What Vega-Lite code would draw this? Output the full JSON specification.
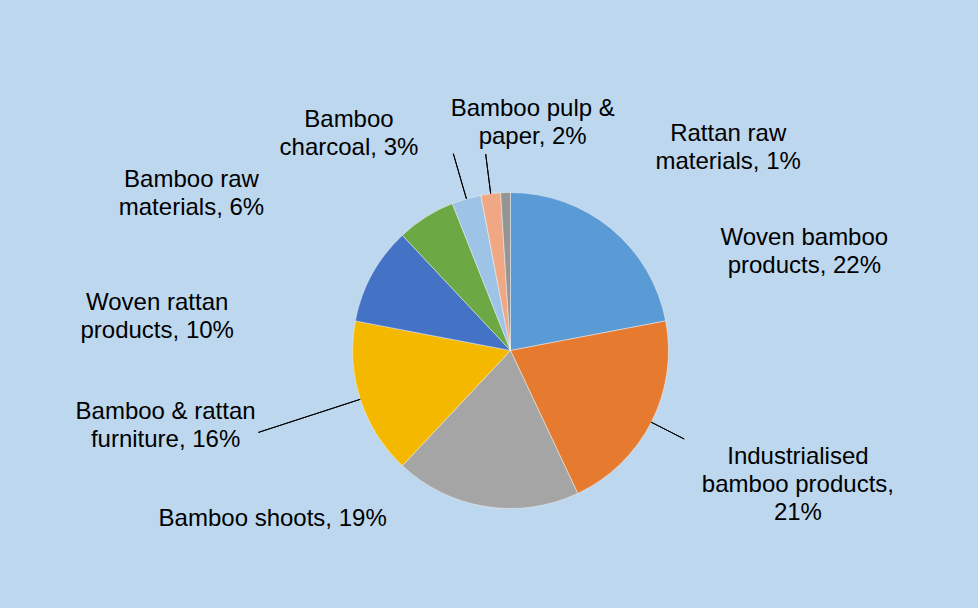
{
  "$schema": "https://vega.github.io/schema/vega-lite/v6.json",
  "width": 978,
  "height": 608,
  "autosize": {"type": "fit", "contains": "padding"},
  "padding": {"left": 43, "top": 93, "right": 0, "bottom": 0},
  "background": "#BDD7EE",
  "config": {"view": {"stroke": null}, "text": {"font": "Liberation Sans"}},
  "data": {
    "values": [
      {"category": "Woven bamboo products", "share": 22, "label": "Woven bamboo\nproducts, 22%"},
      {"category": "Industrialised bamboo products", "share": 21, "label": "Industrialised\nbamboo products,\n21%"},
      {"category": "Bamboo shoots", "share": 19, "label": "Bamboo shoots, 19%"},
      {"category": "Bamboo & rattan furniture", "share": 16, "label": "Bamboo & rattan\nfurniture, 16%"},
      {"category": "Woven rattan products", "share": 10, "label": "Woven rattan\nproducts, 10%"},
      {"category": "Bamboo raw materials", "share": 6, "label": "Bamboo raw\nmaterials, 6%"},
      {"category": "Bamboo charcoal", "share": 3, "label": "Bamboo\ncharcoal, 3%"},
      {"category": "Bamboo pulp & paper", "share": 2, "label": "Bamboo pulp &\npaper, 2%"},
      {"category": "Rattan raw materials", "share": 1, "label": "Rattan raw\nmaterials, 1%"}
    ]
  },
  "transform": [
    {"stack": "share", "groupby": [], "as": ["s0", "s1"]},
    {"window": [{"op": "mean", "field": "s0", "as": "mid"}], "frame": [0, 1], "ignorePeers": true}
  ],
  "layer": [
    {
      "mark": {"type": "arc", "radius": 158, "stroke": "#ffffff", "strokeWidth": 0.6, "strokeOpacity": 0.7},
      "encoding": {
        "theta": {"field": "s0", "type": "quantitative", "stack": null, "scale": {"domain": [0, 100]}},
        "theta2": {"field": "s1"},
        "color": {
          "field": "category",
          "type": "nominal",
          "legend": null,
          "scale": {
            "domain": ["Woven bamboo products", "Industrialised bamboo products", "Bamboo shoots", "Bamboo & rattan furniture", "Woven rattan products", "Bamboo raw materials", "Bamboo charcoal", "Bamboo pulp & paper", "Rattan raw materials"],
            "range": ["#5B9BD5", "#E67B30", "#A5A5A5", "#F4B800", "#4472C4", "#6CA843", "#9DC3E6", "#EFA784", "#959595"]
          }
        }
      }
    },
    {
      "transform": [{"filter": {"field": "category", "equal": "Industrialised bamboo products"}}],
      "mark": {"type": "arc", "radius": 195, "radius2": 158, "stroke": "black", "strokeWidth": 1, "fillOpacity": 0},
      "encoding": {"theta": {"field": "mid", "type": "quantitative", "stack": null}, "theta2": {"field": "mid"}}
    },
    {
      "transform": [{"filter": {"field": "category", "equal": "Bamboo & rattan furniture"}}],
      "mark": {"type": "arc", "radius": 265, "radius2": 158, "stroke": "black", "strokeWidth": 1, "fillOpacity": 0},
      "encoding": {"theta": {"field": "mid", "type": "quantitative", "stack": null}, "theta2": {"field": "mid"}}
    },
    {
      "transform": [{"filter": {"field": "category", "equal": "Bamboo charcoal"}}],
      "mark": {"type": "arc", "radius": 205, "radius2": 158, "stroke": "black", "strokeWidth": 1, "fillOpacity": 0},
      "encoding": {"theta": {"field": "mid", "type": "quantitative", "stack": null}, "theta2": {"field": "mid"}}
    },
    {
      "transform": [{"filter": {"field": "category", "equal": "Bamboo pulp & paper"}}],
      "mark": {"type": "arc", "radius": 198, "radius2": 158, "stroke": "black", "strokeWidth": 1, "fillOpacity": 0},
      "encoding": {"theta": {"field": "mid", "type": "quantitative", "stack": null}, "theta2": {"field": "mid"}}
    },
    {
      "transform": [{"filter": {"field": "category", "equal": "Woven bamboo products"}}],
      "mark": {"type": "text", "radius": 268, "dx": 123, "dy": 101, "align": "center", "baseline": "alphabetic", "fontSize": 24, "lineHeight": 28, "lineBreak": "\n", "color": "black"},
      "encoding": {"theta": {"field": "mid", "type": "quantitative", "stack": null}, "text": {"field": "label"}}
    },
    {
      "transform": [{"filter": {"field": "category", "equal": "Industrialised bamboo products"}}],
      "mark": {"type": "text", "radius": 308, "dx": 13, "dy": -26, "align": "center", "baseline": "alphabetic", "fontSize": 24, "lineHeight": 28, "lineBreak": "\n", "color": "black"},
      "encoding": {"theta": {"field": "mid", "type": "quantitative", "stack": null}, "text": {"field": "label"}}
    },
    {
      "transform": [{"filter": {"field": "category", "equal": "Bamboo shoots"}}],
      "mark": {"type": "text", "radius": 210, "dx": -205, "dy": -32, "align": "center", "baseline": "alphabetic", "fontSize": 24, "lineHeight": 28, "lineBreak": "\n", "color": "black"},
      "encoding": {"theta": {"field": "mid", "type": "quantitative", "stack": null}, "text": {"field": "label"}}
    },
    {
      "transform": [{"filter": {"field": "category", "equal": "Bamboo & rattan furniture"}}],
      "mark": {"type": "text", "radius": 349, "dx": -13, "dy": -39, "align": "center", "baseline": "alphabetic", "fontSize": 24, "lineHeight": 28, "lineBreak": "\n", "color": "black"},
      "encoding": {"theta": {"field": "mid", "type": "quantitative", "stack": null}, "text": {"field": "label"}}
    },
    {
      "transform": [{"filter": {"field": "category", "equal": "Woven rattan products"}}],
      "mark": {"type": "text", "radius": 329, "dx": -65, "dy": 118, "align": "center", "baseline": "alphabetic", "fontSize": 24, "lineHeight": 28, "lineBreak": "\n", "color": "black"},
      "encoding": {"theta": {"field": "mid", "type": "quantitative", "stack": null}, "text": {"field": "label"}}
    },
    {
      "transform": [{"filter": {"field": "category", "equal": "Bamboo raw materials"}}],
      "mark": {"type": "text", "radius": 308, "dx": -154, "dy": 97, "align": "center", "baseline": "alphabetic", "fontSize": 24, "lineHeight": 28, "lineBreak": "\n", "color": "black"},
      "encoding": {"theta": {"field": "mid", "type": "quantitative", "stack": null}, "text": {"field": "label"}}
    },
    {
      "transform": [{"filter": {"field": "category", "equal": "Bamboo charcoal"}}],
      "mark": {"type": "text", "radius": 260, "dx": -89, "dy": 26, "align": "center", "baseline": "alphabetic", "fontSize": 24, "lineHeight": 28, "lineBreak": "\n", "color": "black"},
      "encoding": {"theta": {"field": "mid", "type": "quantitative", "stack": null}, "text": {"field": "label"}}
    },
    {
      "transform": [{"filter": {"field": "category", "equal": "Bamboo pulp & paper"}}],
      "mark": {"type": "text", "radius": 230, "dx": 51, "dy": -6, "align": "center", "baseline": "alphabetic", "fontSize": 24, "lineHeight": 28, "lineBreak": "\n", "color": "black"},
      "encoding": {"theta": {"field": "mid", "type": "quantitative", "stack": null}, "text": {"field": "label"}}
    },
    {
      "transform": [{"filter": {"field": "category", "equal": "Rattan raw materials"}}],
      "mark": {"type": "text", "radius": 196, "dx": 230, "dy": -14, "align": "center", "baseline": "alphabetic", "fontSize": 24, "lineHeight": 28, "lineBreak": "\n", "color": "black"},
      "encoding": {"theta": {"field": "mid", "type": "quantitative", "stack": null}, "text": {"field": "label"}}
    }
  ]
}
